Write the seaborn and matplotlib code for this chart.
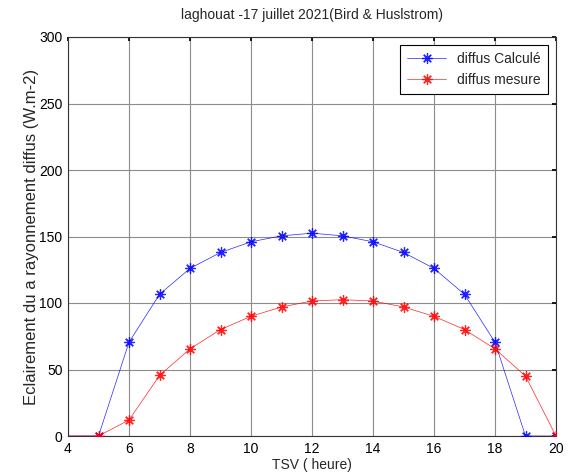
import numpy as np
import pandas as pd
import seaborn as sns
import matplotlib
matplotlib.use("Agg")
import matplotlib.pyplot as plt

# Solar time (hours) and diffuse irradiance (W/m2)
heures = [4, 5, 6, 7, 8, 9, 10, 11, 12, 13, 14, 15, 16, 17, 18, 19, 20]
diffus_calcule = [0, 0, 70.5, 106.5, 126, 138, 146, 150.5, 152.5, 150.5, 146, 138, 126, 106.5, 70.5, 0, 0]
diffus_mesure = [0, 0, 12, 45.5, 65.5, 80, 90, 97, 101.5, 102.5, 101.5, 97, 90, 80, 65.5, 45, 0]

x_ticks = [4, 6, 8, 10, 12, 14, 16, 18, 20]
y_ticks = [0, 50, 100, 150, 200, 250, 300]

sns.set_theme(style="white")
plt.rcParams['font.family'] = ['Liberation Sans', 'DejaVu Sans']

fig = plt.figure(figsize=(5.69, 4.76), dpi=100)
ax = fig.add_axes([68 / 569, 1 - 436 / 476, (556 - 68) / 569, (436 - 37) / 476])

asterisk = (8, 2, 0)
shown = list(range(1, len(heures)))
for values, col, lab in [(diffus_calcule, '#0000ff', 'diffus Calculé'),
                         (diffus_mesure, '#ff0000', 'diffus mesure')]:
    sns.lineplot(x=heures, y=values, ax=ax, color=col, lw=0.5, alpha=0.85,
                 marker=asterisk, markersize=7.5, markeredgewidth=0.9,
                 markeredgecolor=col, markevery=shown, label=lab, zorder=3)

ax.set_xlim(4, 20)
ax.set_ylim(0, 300)
ax.set_xticks(x_ticks)
ax.set_yticks(y_ticks)
ax.grid(True, color='#8c8c8c', lw=0.8, linestyle='-')
for s in ax.spines.values():
    s.set_color('#333333')
    s.set_linewidth(0.8)
ax.tick_params(axis='both', which='both', direction='in', length=3,
               top=True, right=True, labelsize=10, colors='black', pad=4)

ax.set_title('laghouat -17 juillet 2021(Bird & Huslstrom)', fontsize=10, pad=13)
ax.set_xlabel('TSV ( heure)', fontsize=10, labelpad=2)
ax.set_ylabel('Eclairement du a rayonnement diffus (W.m-2)', fontsize=12, labelpad=0)

leg = ax.legend(loc='upper right', fontsize=10, frameon=True, fancybox=False,
                edgecolor='black', framealpha=1, borderaxespad=0.6,
                handlelength=2.8, borderpad=0.5)
leg.get_frame().set_linewidth(0.8)

fig.savefig('out.png', dpi=100)
